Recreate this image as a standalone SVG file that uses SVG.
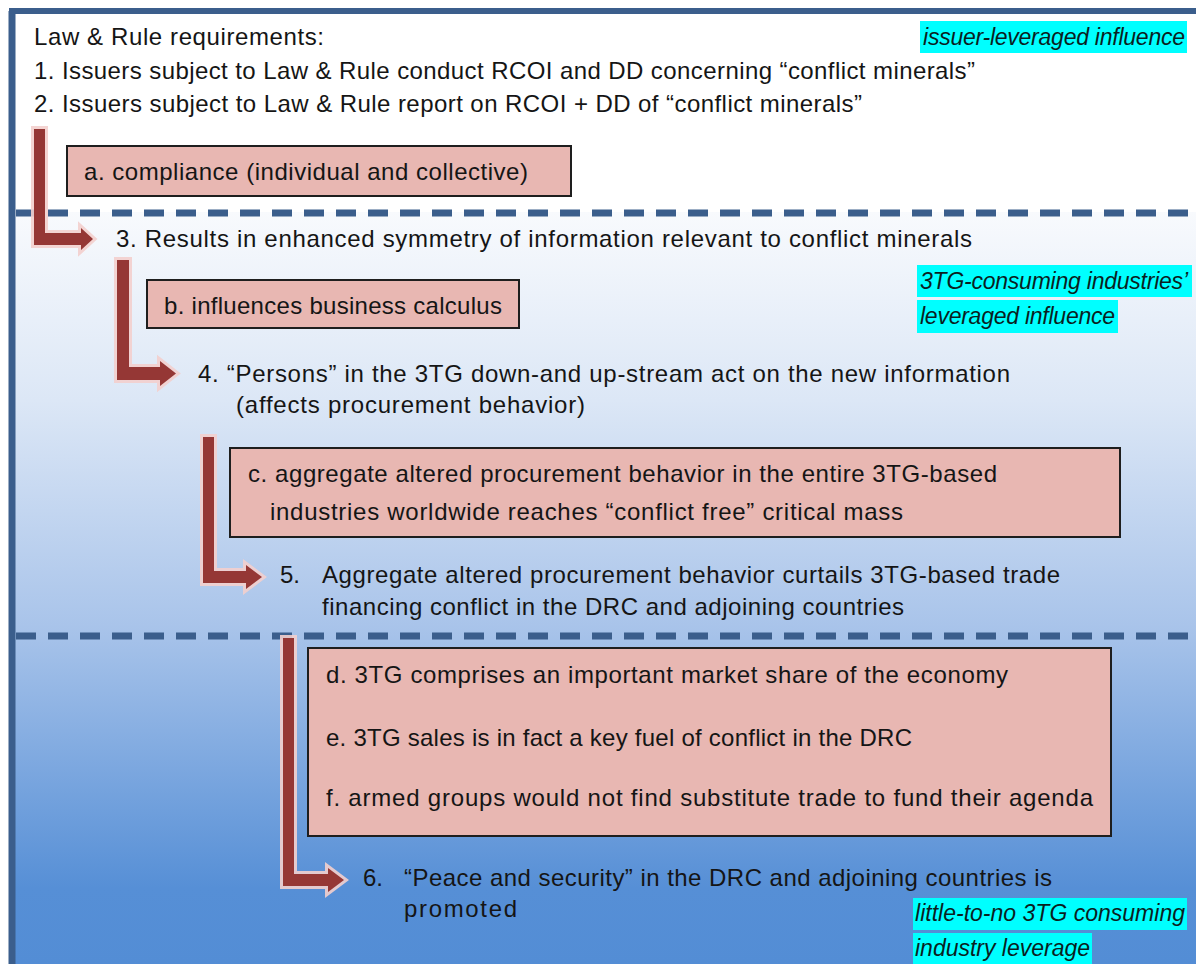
<svg xmlns="http://www.w3.org/2000/svg" width="1196" height="964" viewBox="0 0 1196 964">
<defs>
<linearGradient id="bg" x1="0" y1="212" x2="0" y2="964" gradientUnits="userSpaceOnUse">
<stop offset="0" stop-color="#f8fafd"/>
<stop offset="0.25" stop-color="#dce7f6"/>
<stop offset="0.55" stop-color="#a9c4ea"/>
<stop offset="0.9" stop-color="#568fd6"/>
<stop offset="1" stop-color="#538dd5"/>
</linearGradient>
<style>
.t{font-family:"Liberation Sans",Arial,sans-serif;font-size:24px;fill:#151515}
.it{font-family:"Liberation Sans",Arial,sans-serif;font-size:23px;font-style:italic;fill:#0a1f1f}
.hl{fill:#00ffff}
.box{fill:#e8b7b2;stroke:#1e1e1e;stroke-width:2}
.dash{stroke:#3b5e8c;stroke-width:7;stroke-dasharray:20 12;fill:none}
.arr{fill:#953735;stroke:#f3cfcd;stroke-width:6;stroke-linejoin:miter;paint-order:stroke;stroke-opacity:0.9}
</style>
</defs>
<rect x="0" y="0" width="1196" height="964" fill="#ffffff"/>
<rect x="15" y="212" width="1181" height="752" fill="url(#bg)"/>
<g id="frame">
<line x1="12" y1="11" x2="12" y2="964" stroke="#3b5e8c" stroke-width="7"/>
<line x1="9" y1="11" x2="1196" y2="11" stroke="#3b5e8c" stroke-width="6"/>
<line x1="16" y1="213" x2="1196" y2="213" class="dash"/>
<line x1="16" y1="636" x2="1196" y2="636" class="dash"/>
</g>
<g id="connectors">
<path class="arr" d="M34,129 H45 V233 H81 V228 L93,239 L81,250 V245 H34 Z"/>
<path class="arr" d="M117,260 H129 V367 H160 V361 L176,373.5 L160,386 V380 H117 Z"/>
<path class="arr" d="M203,437 H214 V571 H246 V565 L262,577 L246,589 V583 H203 Z"/>
<path class="arr" d="M283,638 H294 V874 H328 V868 L344,880 L328,892 V886 H283 Z"/>
</g>
<g id="node-requirements">
<text class="t" x="34" y="45" textLength="290">Law &amp; Rule requirements:</text>
<text class="t" x="34" y="79" textLength="941">1. Issuers subject to Law &amp; Rule conduct RCOI and DD concerning “conflict minerals”</text>
<text class="t" x="34" y="112" textLength="828">2. Issuers subject to Law &amp; Rule report on RCOI + DD of “conflict minerals”</text>
</g>
<g id="label-issuer">
<rect class="hl" x="920" y="21" width="267" height="32"/>
<text class="it" x="923" y="45" textLength="262">issuer-leveraged influence</text>
</g>
<g id="node-a">
<rect class="box" x="67" y="146" width="504" height="50"/>
<text class="t" x="84" y="180" textLength="444">a. compliance (individual and collective)</text>
</g>
<g id="node-3">
<text class="t" x="116" y="247" textLength="856">3. Results in enhanced symmetry of information relevant to conflict minerals</text>
</g>
<g id="label-3tg">
<rect class="hl" x="917" y="265" width="275" height="32"/>
<rect class="hl" x="917" y="300" width="201" height="33"/>
<text class="it" x="920" y="289" textLength="268">3TG-consuming industries’</text>
<text class="it" x="920" y="324" textLength="195">leveraged influence</text>
</g>
<g id="node-b">
<rect class="box" x="147" y="280" width="372" height="48"/>
<text class="t" x="164" y="314" textLength="338">b. influences business calculus</text>
</g>
<g id="node-4">
<text class="t" x="198" y="382" textLength="812">4. “Persons” in the 3TG down-and up-stream act on the new information</text>
<text class="t" x="236" y="413" textLength="349">(affects procurement behavior)</text>
</g>
<g id="node-c">
<rect class="box" x="230" y="448" width="890" height="89"/>
<text class="t" x="248" y="482" textLength="749">c. aggregate altered procurement behavior in the entire 3TG-based</text>
<text class="t" x="270" y="520" textLength="633">industries worldwide reaches “conflict free” critical mass</text>
</g>
<g id="node-5">
<text class="t" x="280" y="583" textLength="20">5.</text>
<text class="t" x="322" y="583" textLength="738">Aggregate altered procurement behavior curtails 3TG-based trade</text>
<text class="t" x="322" y="615" textLength="582">financing conflict in the DRC and adjoining countries</text>
</g>
<g id="node-def">
<rect class="box" x="308" y="648" width="803" height="188"/>
<text class="t" x="326" y="683" textLength="682">d. 3TG comprises an important market share of the economy</text>
<text class="t" x="326" y="746" textLength="586">e. 3TG sales is in fact a key fuel of conflict in the DRC</text>
<text class="t" x="326" y="806" textLength="767">f. armed groups would not find substitute trade to fund their agenda</text>
</g>
<g id="node-6">
<text class="t" x="363" y="886" textLength="20">6.</text>
<text class="t" x="404" y="886" textLength="648">“Peace and security” in the DRC and adjoining countries is</text>
<text class="t" x="404" y="917" textLength="113">promoted</text>
</g>
<g id="label-little">
<rect class="hl" x="913" y="898" width="274" height="32"/>
<rect class="hl" x="913" y="933" width="179" height="31"/>
<text class="it" x="915" y="921" textLength="270">little-to-no 3TG consuming</text>
<text class="it" x="915" y="956" textLength="175">industry leverage</text>
</g>
</svg>
